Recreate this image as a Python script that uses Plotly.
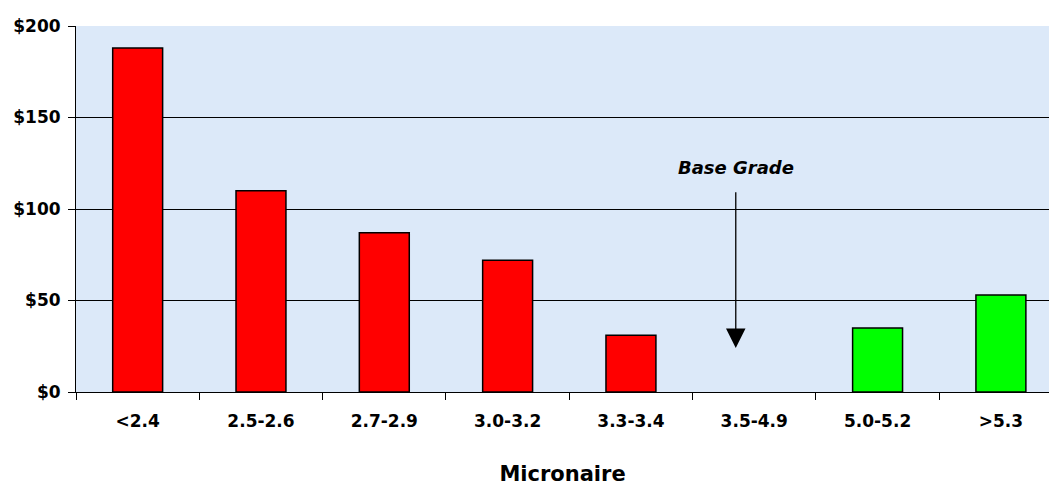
import plotly.graph_objects as go

categories = ["<2.4", "2.5-2.6", "2.7-2.9", "3.0-3.2", "3.3-3.4", "3.5-4.9", "5.0-5.2", ">5.3"]
values = [188, 110, 87, 72, 31, None, 35, 53]
bar_colors = ["#ff0000", "#ff0000", "#ff0000", "#ff0000", "#ff0000", "#ff0000", "#00ff00", "#00ff00"]
y_ticks = [0, 50, 100, 150, 200]
y_labels = ["$0", "$50", "$100", "$150", "$200"]
arrow_x = 4.85
arrow_start = 110
arrow_tip = 24
label_y = 122.5

FONT = "DejaVu Sans"

fig = go.Figure()
fig.add_trace(go.Bar(
    x=categories, y=values,
    marker=dict(color=bar_colors, line=dict(color="black", width=1.5)),
    width=0.405,
    showlegend=False,
))

fig.add_annotation(
    x=arrow_x, y=arrow_tip, ax=arrow_x, ay=arrow_start,
    xref="x", yref="y", axref="x", ayref="y",
    text="", showarrow=True, arrowhead=2, arrowsize=3, arrowwidth=1.3,
    arrowcolor="black",
)
fig.add_annotation(
    x=arrow_x, y=label_y, xref="x", yref="y",
    text="<b><i>Base Grade</i></b>", showarrow=False,
    font=dict(family=FONT, size=18, color="black"),
)

fig.update_layout(
    width=1049, height=486,
    margin=dict(l=76, r=0, t=26, b=94),
    paper_bgcolor="white",
    plot_bgcolor="#dce9f9",
    font=dict(family=FONT, color="black"),
)
fig.update_xaxes(
    type="category",
    range=[-0.5, 7.39],
    automargin=False,
    showline=True, linecolor="black", linewidth=1,
    ticks="outside", tickson="boundaries", ticklen=7, tickcolor="black", tickwidth=1,
    showgrid=False,
    tickfont=dict(family=FONT, size=17, color="black", weight="bold"),
    ticklabelstandoff=14,
    title=dict(text="Micronaire", font=dict(family=FONT, size=21, color="black", weight="bold"), standoff=39),
)
fig.update_yaxes(
    range=[0, 200],
    automargin=False,
    tickvals=y_ticks, ticktext=y_labels,
    showline=True, linecolor="black", linewidth=1,
    ticks="outside", ticklen=7, tickcolor="black", tickwidth=1,
    showgrid=True, gridcolor="black", gridwidth=1,
    zeroline=False,
    tickfont=dict(family=FONT, size=17, color="black", weight="bold"),
    ticklabelstandoff=4,
)

fig.write_html("out.html")
